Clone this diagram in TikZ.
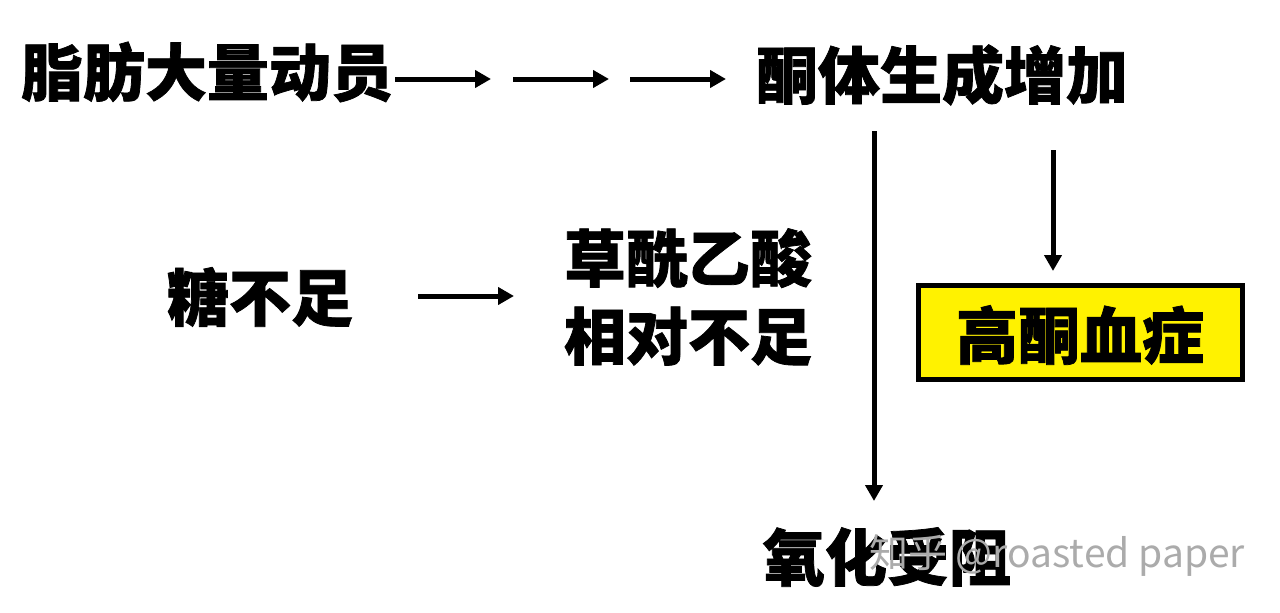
\documentclass[tikz,border=0pt]{standalone}
\usepackage{fontspec}
\newfontfamily\cjk{Noto Sans CJK SC}[BoldFeatures={FakeBold=1.2}]
\usetikzlibrary{arrows.meta}
\tikzset{
  big/.style={font=\cjk\bfseries\fontsize{62}{74}\selectfont, inner sep=0pt, text=black},
  arr/.style={line width=5pt, -{Triangle[length=16pt,width=17pt]}},
  hl/.style={draw=black, line width=5pt, fill=yellow, minimum width=324pt, minimum height=94pt},
  wm/.style={font=\cjk\fontsize{39}{42}\selectfont, text=black!33, inner sep=0pt}
}
\begin{document}
\begin{tikzpicture}[x=1pt,y=-1pt]
\useasboundingbox[fill=white] (0,0) rectangle (1280,613);
% nodes
\node[big] (fat) at (207,72) {脂肪大量动员};
\node[big] (ket) at (942,75) {酮体生成增加};
\node[big] (sug) at (260,297) {糖不足};
\node[big, align=center] (oaa) at (688,297) {草酰乙酸\\[4pt]相对不足};
\node[hl] (box) at (1080.5,332.5) {};
\node[big] (hk) at (1080,335) {高酮血症};
\node[big] (ox) at (887,557) {氧化受阻};
\node[wm, anchor=west] (wmk) at (869,556) {知乎 @roasted paper};
% coordinates
\coordinate (a1s) at (395,79);
\coordinate (a1e) at (491,79);
\coordinate (a2s) at (513,79);
\coordinate (a2e) at (609,79);
\coordinate (a3s) at (630,79);
\coordinate (a3e) at (726,79);
\coordinate (vs) at (874,131);
\coordinate (ve) at (874,501);
\coordinate (hs) at (1053,150);
\coordinate (he) at (1053,271);
\coordinate (ss) at (418,296);
\coordinate (se) at (514,296);
% connectors
\draw[arr] (a1s) -- (a1e);
\draw[arr] (a2s) -- (a2e);
\draw[arr] (a3s) -- (a3e);
\draw[arr] (vs) -- (ve);
\draw[arr] (hs) -- (he);
\draw[arr] (ss) -- (se);
\end{tikzpicture}
\end{document}
